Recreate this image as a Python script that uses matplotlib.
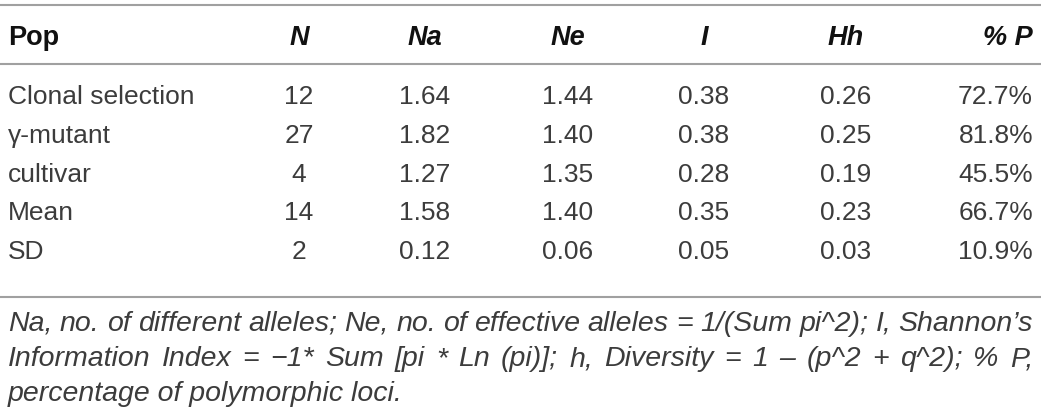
import matplotlib.pyplot as plt

plt.rcParams['font.family'] = ['Liberation Sans', 'DejaVu Sans']

headers = ['Pop', 'N', 'Na', 'Ne', 'I', 'Hh', '% P']
pops = ['Clonal selection', 'γ-mutant', 'cultivar', 'Mean', 'SD']
n_vals = ['12', '27', '4', '14', '2']
na_vals = ['1.64', '1.82', '1.27', '1.58', '0.12']
ne_vals = ['1.44', '1.40', '1.35', '1.40', '0.06']
i_vals = ['0.38', '0.38', '0.28', '0.35', '0.05']
hh_vals = ['0.26', '0.25', '0.19', '0.23', '0.03']
p_vals = ['72.7%', '81.8%', '45.5%', '66.7%', '10.9%']
footnote = ["Na, no. of different alleles; Ne, no. of effective alleles = 1/(Sum pi^2); I, Shannon\u2019s",
            "Information Index = \u22121* Sum [pi * Ln (pi)]; h, Diversity = 1 \u2013 (p^2 + q^2); % P,",
            "percentage of polymorphic loci."]

columns = [pops, n_vals, na_vals, ne_vals, i_vals, hh_vals, p_vals]

# layout in pixels
col_x = [8, 299, 425, 568, 704, 846, 1033]
col_ha = ['left', 'center', 'center', 'center', 'center', 'center', 'right']
header_y = 45
row_y = [104, 143, 182, 220, 259]
foot_y = [331, 366, 401]
left, right = 8, 1033
line_color = '#a0a0a0'
text_color = '#3c3c3c'

fig = plt.figure(figsize=(10.41, 4.18), dpi=100)
ax = fig.add_axes([0, 0, 1, 1])
ax.set_xlim(0, 1041)
ax.set_ylim(418, 0)
ax.axis('off')

for y in [5, 64, 297]:
    ax.plot([0, 1041], [y, y], color=line_color, lw=1.5, solid_capstyle='butt')

for j, h in enumerate(headers):
    style = 'normal' if j == 0 else 'italic'
    ax.text(col_x[j], header_y, h, ha=col_ha[j], va='baseline', fontsize=19.5,
            fontweight='bold', style=style, color='#111111')

for j, col in enumerate(columns):
    for i, v in enumerate(col):
        ax.text(col_x[j], row_y[i], v, ha=col_ha[j], va='baseline', fontsize=19,
                color=text_color)

# justified footnote: words spread across the full width except on the last line
renderer = fig.canvas.get_renderer()
for k, line in enumerate(footnote):
    words = line.split(' ')
    kw = dict(va='baseline', fontsize=20.5, style='italic', color=text_color)
    if k == len(footnote) - 1:
        ax.text(left, foot_y[k], line, ha='left', **kw)
        continue
    arts = [ax.text(0, foot_y[k], w, ha='left', **kw) for w in words]
    widths = [a.get_window_extent(renderer).width for a in arts]
    gap = (right - left - sum(widths)) / (len(words) - 1)
    x = left
    for a, w in zip(arts, widths):
        a.set_x(x)
        x += w + gap

fig.savefig('out.png', dpi=100)
